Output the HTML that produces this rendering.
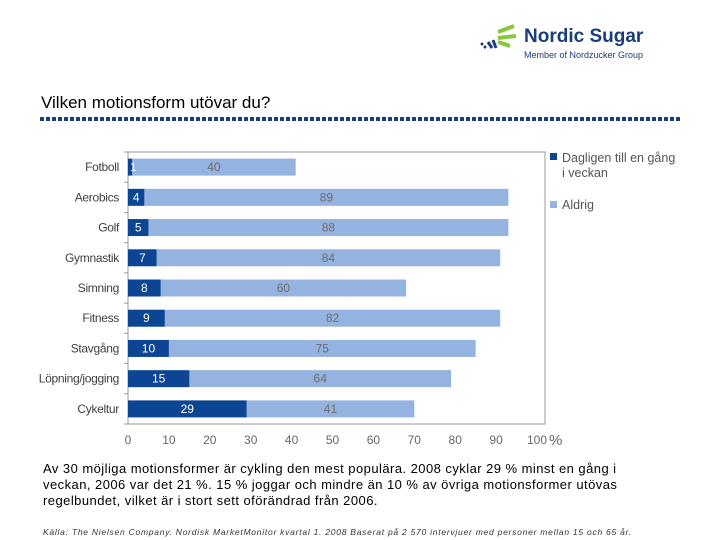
<!DOCTYPE html>
<html><head><meta charset="utf-8"><style>
body{margin:0;background:#fff;width:720px;height:540px;overflow:hidden;font-family:"Liberation Sans",sans-serif;position:relative}
.abs{position:absolute}
</style></head><body>
<div class="abs" style="left:476px;top:20px;width:180px;height:45px">
<svg width="50" height="34" class="abs" style="left:0;top:0">
<path d="M22 12 L38 6" stroke="#8cc63f" stroke-width="4"/><path d="M22 18 L40 16" stroke="#8cc63f" stroke-width="4"/><path d="M22 22 L34 26" stroke="#8cc63f" stroke-width="4"/>
<path d="M12 22 L16 28" stroke="#1a3d7c" stroke-width="3"/><path d="M17 20 L20 28" stroke="#1a3d7c" stroke-width="3"/><circle cx="6" cy="24" r="1.5" fill="#1a3d7c"/><circle cx="9" cy="27" r="1.5" fill="#1a3d7c"/>
</svg>
<div class="abs" style="left:48px;top:6px;font-size:19px;font-weight:bold;color:#1a3d7c;white-space:nowrap">Nordic Sugar</div>
<div class="abs" style="left:48px;top:30px;font-size:9px;color:#1a3d7c;white-space:nowrap">Member of Nordzucker Group</div>
</div>
<div class="abs" style="left:41px;top:93px;font-size:17px;color:#000">Vilken motionsform utövar du?</div>
<div class="abs" style="left:40px;top:117px;width:640px;height:4px;background:repeating-linear-gradient(90deg,#1a3d7c 0 4px,transparent 4px 6px)"></div>
<svg class="abs" style="left:0;top:0" width="720" height="540" id="chart"></svg>
<div class="abs" style="left:43px;top:461px;width:590px;font-size:13px;line-height:16px;color:#000;letter-spacing:0.45px">Av 30 möjliga motionsformer är cykling den mest populära. 2008 cyklar 29 % minst en gång i veckan, 2006 var det 21 %. 15 % joggar och mindre än 10 % av övriga motionsformer utövas regelbundet, vilket är i stort sett oförändrad från 2006.</div>
<div class="abs" style="left:43px;top:527px;font-size:8.5px;font-style:italic;color:#333;white-space:nowrap;letter-spacing:0.75px">Källa: The Nielsen Company. Nordisk MarketMonitor kvartal 1. 2008 Baserat på 2 570 intervjuer med personer mellan 15 och 65 år.</div>
<script>
const categories=["Fotboll","Aerobics","Golf","Gymnastik","Simning","Fitness","Stavgång","Löpning/jogging","Cykeltur"];
const daily=[1,4,5,7,8,9,10,15,29];
const never=[40,89,88,84,60,82,75,64,41];
const ticks=[0,10,20,30,40,50,60,70,80,90,100];
const NS="http://www.w3.org/2000/svg";
const svg=document.getElementById("chart");
const x0=128,k=4.09,plotTop=152,plotBottom=424,plotRight=545;
const band=(plotBottom-plotTop)/categories.length;
const X=v=>x0+v*k;
const Y=i=>plotTop+band*(i+0.5);
function el(t,a){const e=document.createElementNS(NS,t);for(const n in a)e.setAttribute(n,a[n]);svg.appendChild(e);return e;}
const frame=el("rect",{x:x0,y:plotTop,width:plotRight-x0,height:plotBottom-plotTop,fill:"none",stroke:"#999","stroke-width":1});


for(let i=0;i<=categories.length;i++){const t=el("line",{x1:x0-4,x2:x0,y1:plotTop+band*i,y2:plotTop+band*i,stroke:"#999"});

}
ticks.forEach(v=>{const t=el("text",{x:X(v),y:444,"text-anchor":"middle","font-size":12,fill:"#666","font-family":"Liberation Sans"});t.textContent=v;

});
const pc=el("text",{x:549,y:445,"font-size":15,fill:"#666","font-family":"Liberation Sans"});pc.textContent="%";


categories.forEach((c,i)=>{
const y=Y(i),h=17;
const lab=el("text",{x:119,y:y+4,"text-anchor":"end","font-size":12,fill:"#404040","font-family":"Liberation Sans","letter-spacing":"-0.3"});lab.textContent=c;


const b2=el("rect",{x:X(daily[i]),y:y-h/2,width:never[i]*k,height:h,fill:"#95b3e0"});


const b1=el("rect",{x:X(0),y:y-h/2,width:daily[i]*k,height:h,fill:"#0d4595"});


const t1=el("text",{x:Math.max(X(daily[i]/2),X(0)+2),y:y+4,"text-anchor":daily[i]<2?"start":"middle","font-size":12,fill:"#fff","font-family":"Liberation Sans"});t1.textContent=daily[i];


const t2=el("text",{x:X(daily[i]+never[i]/2),y:y+4,"text-anchor":"middle","font-size":12,fill:"#6c6c6c","font-family":"Liberation Sans"});t2.textContent=never[i];


});
const l1=el("rect",{x:550,y:153,width:7,height:7,fill:"#0d4595"});


[["Dagligen till en gång",162],["i veckan",177]].forEach(([s,yy])=>{const t=el("text",{x:562,y:yy,"font-size":12.5,fill:"#555","font-family":"Liberation Sans"});t.textContent=s;

});
const l2=el("rect",{x:550,y:201,width:7,height:7,fill:"#95b3e0"});


const lt=el("text",{x:562,y:209,"font-size":12.5,fill:"#555","font-family":"Liberation Sans"});lt.textContent="Aldrig";


</script>
</body></html>
